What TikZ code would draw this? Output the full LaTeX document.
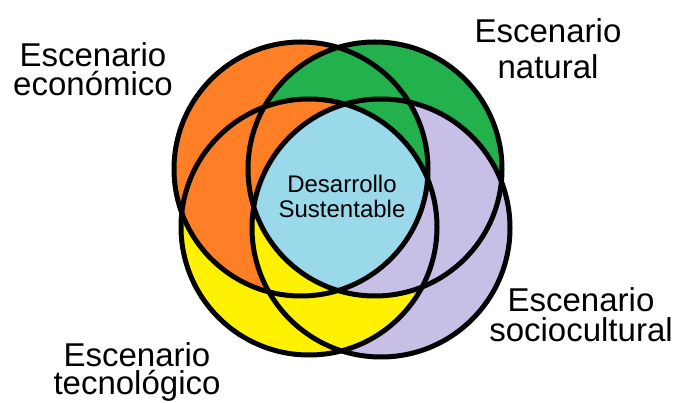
\documentclass[tikz,border=0pt]{standalone}
\usepackage{fontspec}
\setmainfont{Liberation Sans}
\definecolor{naranja}{HTML}{FF7F27}
\definecolor{verde}{HTML}{22B14C}
\definecolor{lila}{HTML}{C8BFE7}
\definecolor{amarillo}{HTML}{FFF200}
\definecolor{celeste}{HTML}{99D9EA}
\tikzset{
  escenario/.style={align=center, inner sep=0pt, anchor=base, font=\fontsize{33}{29}\selectfont},
  borde/.style={line width=5pt}
}
\begin{document}
\begin{tikzpicture}[x=1pt,y=-1pt]
    \useasboundingbox (0,0) rectangle (683,403);
    \coordinate (co) at (301,169);
    \coordinate (cn) at (375,169);
    \coordinate (cs) at (381,228);
    \coordinate (ct) at (309,227);
    \def\ro{127pt}
    \def\rn{127pt}
    \def\rs{129pt}
    \def\rt{128pt}

    \fill[naranja] (co) circle (\ro);
    \fill[verde] (cn) circle (\rn);
    \fill[lila] (cs) circle (\rs);
    \fill[amarillo] (ct) circle (\rt);

    % lentes de a dos
    \begin{scope}
      \clip (co) circle (\ro);
      \fill[verde] (cn) circle (\rn);
    \end{scope}
    \begin{scope}
      \clip (cn) circle (\rn);
      \fill[lila] (cs) circle (\rs);
    \end{scope}
    \begin{scope}
      \clip (cs) circle (\rs);
      \fill[amarillo] (ct) circle (\rt);
    \end{scope}
    \begin{scope}
      \clip (ct) circle (\rt);
      \fill[naranja] (co) circle (\ro);
    \end{scope}

    % zonas de a tres
    \begin{scope}
      \clip (cn) circle (\rn);
      \clip (ct) circle (\rt);
      \fill[naranja] (co) circle (\ro);
    \end{scope}
    \begin{scope}
      \clip (co) circle (\ro);
      \clip (cs) circle (\rs);
      \fill[verde] (cn) circle (\rn);
    \end{scope}
    \begin{scope}
      \clip (cn) circle (\rn);
      \clip (ct) circle (\rt);
      \fill[lila] (cs) circle (\rs);
    \end{scope}
    \begin{scope}
      \clip (co) circle (\ro);
      \clip (cs) circle (\rs);
      \fill[amarillo] (ct) circle (\rt);
    \end{scope}

    % centro
    \begin{scope}
      \clip (co) circle (\ro);
      \clip (cn) circle (\rn);
      \clip (cs) circle (\rs);
      \fill[celeste] (ct) circle (\rt);
    \end{scope}

    \draw[borde] (co) circle (\ro);
    \draw[borde] (cn) circle (\rn);
    \draw[borde] (cs) circle (\rs);
    \draw[borde] (ct) circle (\rt);

    \node[escenario] (economico) at (93,96) {Escenario\\econ\'omico};
    \node[escenario, font=\fontsize{33}{36}\selectfont] (natural) at (548,79) {Escenario\\natural};
    \node[escenario, font=\fontsize{33}{30}\selectfont] (sociocultural) at (581,342) {Escenario\\sociocultural};
    \node[escenario, font=\fontsize{33}{28}\selectfont] (tecnologico) at (137,394) {Escenario\\tecnol\'ogico};
    \node[escenario, font=\fontsize{24}{25}\selectfont] (desarrollo) at (342,218) {Desarrollo\\Sustentable};
\end{tikzpicture}
\end{document}
